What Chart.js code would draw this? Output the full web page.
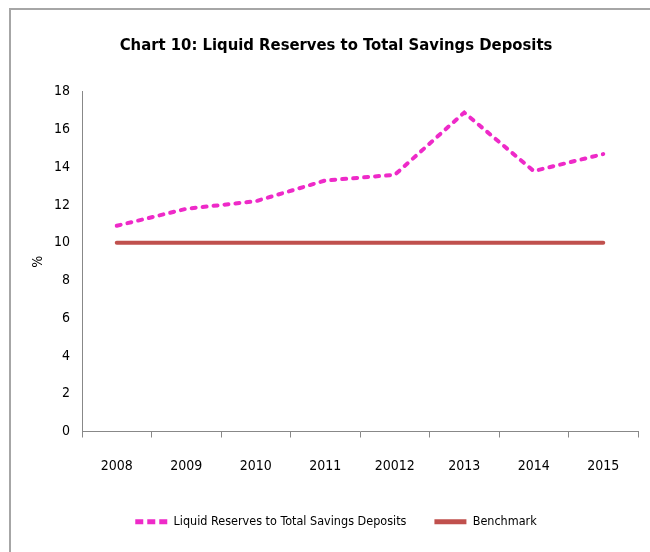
<!DOCTYPE html>
<html>
<head>
<meta charset="utf-8">
<script src="https://cdn.jsdelivr.net/npm/chart.js@4"></script>
<style>
  html, body { margin: 0; padding: 0; background: #fff; }
  #wrap { position: absolute; left: 0; top: 0; width: 650px; height: 552px; }
  #frame { position: absolute; left: 9px; top: 8px; width: 660px; height: 560px;
           border-top: 2px solid #a6a6a6; border-left: 2px solid #a6a6a6; box-sizing: border-box; }
  canvas { position: absolute; left: 0; top: 0; }
</style>
</head>
<body>
<div id="wrap">
  <div id="frame"></div>
  <canvas id="c" width="650" height="552"></canvas>
</div>
<script>
const categories = ['2008', '2009', '2010', '2011', '20012', '2013', '2014', '2015'];
const liquidReserves = [10.9, 11.8, 12.2, 13.3, 13.6, 16.9, 13.8, 14.7];
const benchmark = [10, 10, 10, 10, 10, 10, 10, 10];
const yTicks = [0, 2, 4, 6, 8, 10, 12, 14, 16, 18];

const FONT = "'Liberation Sans Narrow', 'DejaVu Sans Condensed', 'Roboto', sans-serif";
const legendDash = [[8, 4], []];

new Chart(document.getElementById('c'), {
  type: 'line',
  data: {
    labels: categories,
    datasets: [
      {
        label: 'Liquid Reserves to Total Savings Deposits',
        data: liquidReserves,
        borderColor: '#EE2AC8',
        backgroundColor: '#EE2AC8',
        borderWidth: 4,
        borderDash: [4, 7],
        borderCapStyle: 'round',
        pointRadius: 0,
        tension: 0,
        fill: false
      },
      {
        label: 'Benchmark',
        data: benchmark,
        borderColor: '#C0504D',
        backgroundColor: '#C0504D',
        borderWidth: 4,
        borderCapStyle: 'round',
        pointRadius: 0,
        tension: 0,
        fill: false
      }
    ]
  },
  options: {
    responsive: false,
    animation: false,
    devicePixelRatio: 1,
    layout: { padding: { left: 34, right: 12, top: 0, bottom: 14 } },
    plugins: {
      title: {
        display: true,
        text: 'Chart 10: Liquid Reserves to Total Savings Deposits',
        color: '#000',
        font: { family: FONT, size: 16.5, weight: 'bold' },
        padding: { top: 36, bottom: 36 }
      },
      legend: {
        position: 'bottom',
        labels: {
          color: '#000',
          font: { family: FONT, size: 12.5 },
          usePointStyle: true,
          pointStyle: 'line',
          pointStyleWidth: 32,
          boxWidth: 32,
          boxHeight: 10,
          padding: 28,
          generateLabels: (chart) => {
            const items = Chart.defaults.plugins.legend.labels.generateLabels(chart);
            items.forEach((it, i) => {
              const ds = chart.data.datasets[it.datasetIndex];
              it.lineDash = legendDash[i] || [];
              it.lineWidth = 5;
              it.lineCap = 'butt';
              it.strokeStyle = ds.borderColor;
              it.fillStyle = ds.borderColor;
              it.pointStyle = 'line';
            });
            return items;
          }
        }
      },
      tooltip: { enabled: false }
    },
    scales: {
      x: {
        type: 'category',
        offset: true,
        grid: { display: true, drawOnChartArea: false, drawTicks: true, tickLength: 6, offset: true, color: '#888' },
        border: { display: true, color: '#888', width: 1 },
        ticks: { color: '#000', font: { family: FONT, size: 14 }, padding: 20, maxRotation: 0, autoSkip: false },
        afterFit: (s) => { s.height = 56; }
      },
      y: {
        min: 0,
        max: 18,
        afterBuildTicks: (s) => { s.ticks = yTicks.map(v => ({ value: v })); },
        grid: { display: false, drawTicks: false },
        border: { display: true, color: '#888', width: 1 },
        ticks: { color: '#000', font: { family: FONT, size: 14 }, padding: 12 },
        title: { display: true, text: '%', color: '#000', font: { family: FONT, size: 14 }, padding: { top: -4, bottom: 0 } },
        afterFit: (s) => { s.width = 48; }
      }
    }
  }
});
</script>
</body>
</html>
